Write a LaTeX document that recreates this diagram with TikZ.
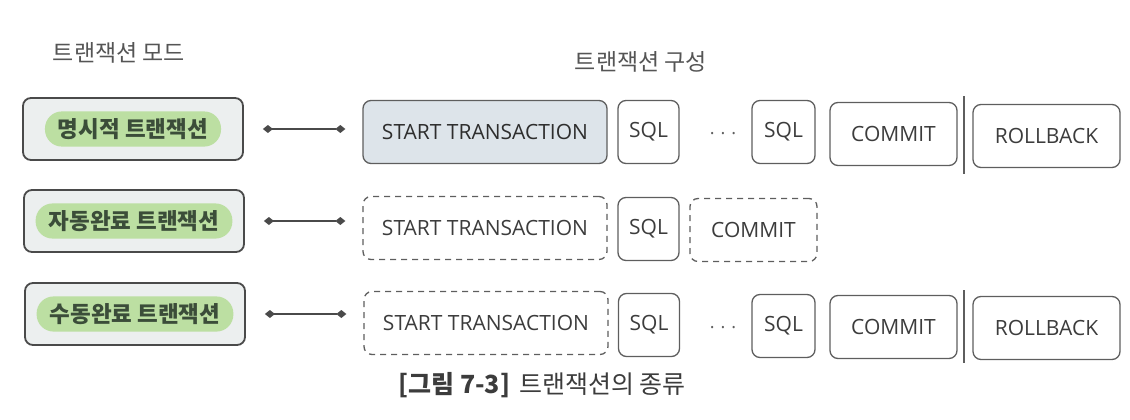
\documentclass[tikz,border=0pt]{standalone}
\usepackage{fontspec}
\setmainfont{Open Sans}
\newfontfamily\kr{Noto Sans CJK KR}
\usetikzlibrary{arrows.meta}
\definecolor{modefill}{HTML}{ECEFEF}
\definecolor{boxdk}{HTML}{4A4A4A}
\definecolor{hlgreen}{HTML}{BCDFA2}
\definecolor{hltext}{HTML}{3B4D39}
\definecolor{startfill}{HTML}{DDE4EA}
\definecolor{boxgr}{HTML}{5E5E5E}
\definecolor{txt}{HTML}{3C3C3C}
\definecolor{head}{HTML}{555555}
\tikzset{
  modebox/.style={draw=boxdk, line width=1.8pt, fill=modefill, rounded corners=8pt,
    minimum width=220pt, minimum height=62pt, inner sep=0pt},
  hl/.style={fill=hlgreen, rounded corners=17pt, inner xsep=13pt, inner ysep=7pt,
    font=\kr\bfseries\fontsize{22.5}{24}\selectfont, text=hltext},
  cbox/.style={draw=boxgr, line width=1.3pt, rounded corners=8pt, minimum height=63pt,
    inner sep=0pt, font=\fontsize{21}{24}\selectfont, text=txt},
  dbox/.style={cbox, dash pattern=on 6pt off 5pt},
  conn/.style={draw=boxdk, line width=1.3pt,
    {Diamond[length=10pt,width=8pt]}-{Diamond[length=10pt,width=8pt]}},
  sepline/.style={draw=boxgr, line width=1.3pt},
  headtxt/.style={font=\kr\fontsize{23}{25}\selectfont, text=head},
  dotstxt/.style={font=\fontsize{18}{20}\selectfont, text=boxgr}
}
\begin{document}
\begin{tikzpicture}[x=1pt,y=-1pt]
\useasboundingbox (0,0) rectangle (1130,420);

% headers
\node[headtxt] (h1) at (119,53) {트랜잭션 모드};
\node[headtxt] (h2) at (641,62) {트랜잭션 구성};

% ---------- row 1
\node[modebox] (L1) at (133,129) {};
\node[hl] (L1t) at (L1.center) {명시적 트랜잭션};
\node[cbox, fill=startfill, minimum width=244pt, text=black!82] (S1) at (485,132) {START TRANSACTION};
\node[cbox, minimum width=61pt] (Q1a) at (648.5,132) {SQL};
\node[dotstxt] (D1) at (723,134) {.\hspace{6pt}.\hspace{6pt}.};
\node[cbox, minimum width=63pt] (Q1b) at (783.5,132) {SQL};
\node[cbox, minimum width=127pt] (C1) at (893.5,134) {COMMIT};
\coordinate (V1a) at (964,96);
\coordinate (V1b) at (964,174);
\draw[sepline] (V1a) -- (V1b);
\node[cbox, minimum width=147pt] (R1) at (1046.5,136) {ROLLBACK};
\draw[conn] ([xshift=19pt]L1.east) -- ([xshift=-17pt]L1.east -| S1.west);

% ---------- row 2
\node[modebox] (L2) at (134,221) {};
\node[hl] (L2t) at (L2.center) {자동완료 트랜잭션};
\node[dbox, minimum width=244pt] (S2) at (485,228) {START TRANSACTION};
\node[cbox, minimum width=61pt] (Q2) at (648.5,229) {SQL};
\node[dbox, minimum width=127pt] (C2) at (753.5,230) {COMMIT};
\draw[conn] ([xshift=19pt]L2.east) -- ([xshift=-17pt]L2.east -| S2.west);

% ---------- row 3
\node[modebox] (L3) at (135,314) {};
\node[hl] (L3t) at (L3.center) {수동완료 트랜잭션};
\node[dbox, minimum width=244pt] (S3) at (486,323) {START TRANSACTION};
\node[cbox, minimum width=61pt] (Q3a) at (649,325) {SQL};
\node[dotstxt] (D3) at (723,328) {.\hspace{6pt}.\hspace{6pt}.};
\node[cbox, minimum width=63pt] (Q3b) at (783.5,326) {SQL};
\node[cbox, minimum width=127pt] (C3) at (893.5,327) {COMMIT};
\coordinate (V3a) at (964,290);
\coordinate (V3b) at (964,363);
\draw[sepline] (V3a) -- (V3b);
\node[cbox, minimum width=147pt] (R3) at (1046.5,328) {ROLLBACK};
\draw[conn] ([xshift=19pt]L3.east) -- ([xshift=-17pt]L3.east -| S3.west);

% caption
\node[font=\kr\fontsize{25}{27}\selectfont, text=txt] (cap) at (542,385)
  {{\bfseries [그림 7-3]}\hspace{9pt}트랜잭션의 종류};
\end{tikzpicture}
\end{document}
